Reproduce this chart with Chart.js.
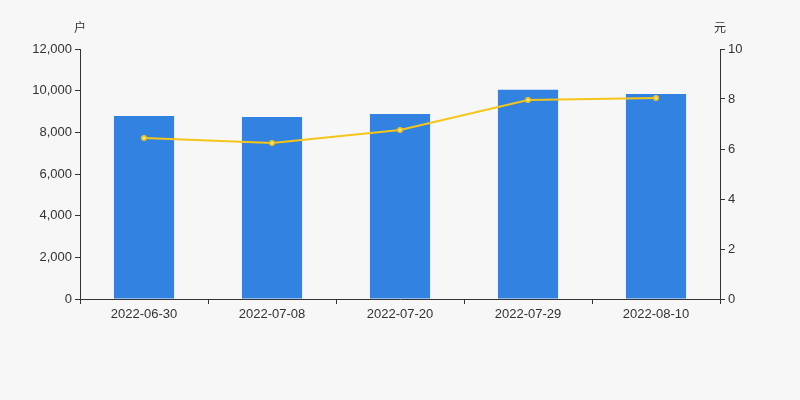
<!DOCTYPE html>
<html><head><meta charset="utf-8">
<script src="https://cdn.jsdelivr.net/npm/chart.js@4/dist/chart.umd.min.js"></script>
<style>body{margin:0;background:#f7f7f7}#wrap{width:800px;height:400px}</style>
</head><body><div id="wrap"><canvas id="c"></canvas></div>
<script>
const dates = ["2022-06-30", "2022-07-08", "2022-07-20", "2022-07-29", "2022-08-10"];
const holders = [8780, 8740, 8880, 10040, 9840];
const avgPrice = [6.44, 6.24, 6.76, 7.96, 8.04];

const axisTitles = {
  id: "axisTitles",
  afterDraw(chart) {
    const c = chart.ctx;
    c.save();
    c.font = "12px 'Noto Sans CJK SC'";
    c.fillStyle = "#333";
    c.textAlign = "center";
    c.fillText("户", 80, 32);
    c.fillText("元", 720, 32);
    c.restore();
  }
};

const tickFont = { family: "'Liberation Sans', Arial", size: 13 };

new Chart(document.getElementById("c"), {
  data: {
    labels: dates,
    datasets: [
      {
        type: "line", data: avgPrice, yAxisID: "y1",
        borderColor: "#f5c518", backgroundColor: "#f5c518", borderWidth: 2,
        pointRadius: 2, pointBackgroundColor: "#fff", pointBorderColor: "#f5c518",
        tension: 0, order: 0
      },
      {
        type: "bar", data: holders, yAxisID: "y",
        backgroundColor: "#3282e2", categoryPercentage: 1, barPercentage: 0.47, order: 1
      }
    ]
  },
  options: {
    responsive: true, maintainAspectRatio: false, animation: false,
    layout: { padding: { top: 49, bottom: 71, left: 0, right: 0 } },
    plugins: { legend: { display: false }, tooltip: { enabled: false } },
    scales: {
      x: {
        grid: { display: true, drawOnChartArea: false, offset: true, color: "#333", tickLength: 5 },
        border: { color: "#333" },
        ticks: { color: "#333", font: tickFont },
        afterFit(s) { s.height = 30; }
      },
      y: {
        position: "left", min: 0, max: 12000,
        ticks: { stepSize: 2000, color: "#333", font: tickFont, callback: v => v.toLocaleString("en-US") },
        grid: { drawOnChartArea: false, color: "#333", tickLength: 5 },
        border: { color: "#333" },
        afterFit(s) { s.width = 80; }
      },
      y1: {
        position: "right", min: 0, max: 10,
        ticks: { stepSize: 2, color: "#333", font: tickFont },
        grid: { drawOnChartArea: false, color: "#333", tickLength: 5 },
        border: { color: "#333" },
        afterFit(s) { s.width = 80; }
      }
    }
  },
  plugins: [axisTitles]
});
</script></body></html>
